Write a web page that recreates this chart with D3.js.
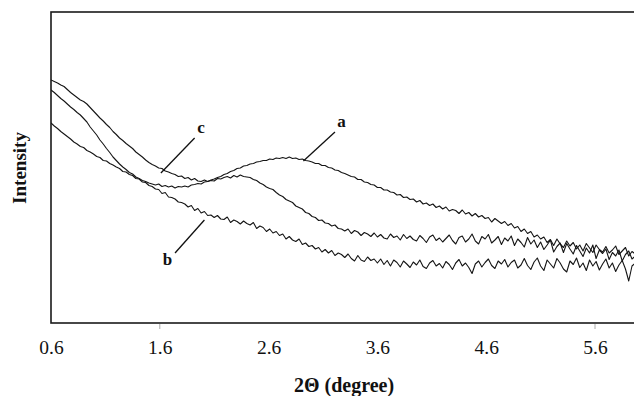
<!DOCTYPE html>
<html>
<head>
<meta charset="utf-8">
<script src="https://cdn.jsdelivr.net/npm/d3@7"></script>
<style>
  html, body { margin: 0; padding: 0; background: #fff; }
  svg { display: block; }
  text { font-family: "Liberation Serif", "Times New Roman", serif; fill: #111; }
</style>
</head>
<body>
<svg id="chart" width="634" height="396"></svg>
<script>
// ---- data ----
const thetaStart = 0.6;      // 2Θ of first sample (degree)
const thetaStep = 0.03;      // sampling step (degree)
const xTickLabels = [0.6, 1.6, 2.6, 3.6, 4.6, 5.6];
const xTickMarks = [1.6, 5.6];

const intensityC = [
  243, 241.5, 240, 238, 236.5, 233.5, 230.5, 228, 225.5, 223,
  221.5, 219, 215.5, 212, 208.5, 205, 202, 198.5, 195.5, 191.5,
  188.5, 185, 182.5, 179.5, 177, 174.5, 171, 168.5, 166, 163,
  160.5, 158.5, 157, 155, 154.5, 152, 151, 149.5, 148.5, 146.5,
  147, 144.5, 145.5, 143, 144.5, 142, 141.5, 143, 141.5, 142.5,
  142, 144.5, 144, 145.5, 146.5, 145, 147.5, 146, 148, 146.5,
  146, 145.5, 143.5, 142.5, 140, 138.5, 136, 134.5, 133.5, 130.5,
  128, 126.5, 123.5, 122, 120.5, 117, 115.5, 114, 110.5, 109.5,
  106.5, 105.5, 102.5, 103, 100, 99.5, 97, 98, 94.5, 94,
  92, 94, 89.5, 92.5, 91, 87.5, 90.5, 89, 86.5, 90,
  86, 88.5, 85, 84, 89, 85.5, 87, 83, 88.5, 84.5,
  87, 83.5, 82, 87.5, 84.5, 80.5, 86, 88, 82.5, 85,
  81, 84.5, 88, 82.5, 79, 85.5, 87, 81, 84, 89,
  82, 79, 86.5, 84, 88.5, 80, 83, 86.5, 78.5, 85,
  82, 87, 77.5, 84, 80.5, 76, 85.5, 79, 83, 75.5,
  81, 73.5, 78, 83, 71, 76.5, 80, 70.5, 79.5, 74,
  69, 77.5, 72, 66.5, 75, 70, 78, 64.5, 73, 69.5,
  74, 63.5, 70.5, 67, 73, 62, 68.5, 72, 64, 67
];

const intensityA = [
  233, 230.5, 227.5, 224.5, 222, 219, 216, 213.5, 210.5, 208,
  204.5, 201, 196, 192, 188, 183, 179, 174.5, 170.5, 166,
  162.5, 159, 156, 153.5, 150.5, 149, 146, 144.5, 142.5, 141.5,
  140, 139, 138, 139, 136.5, 137.5, 136, 137, 135, 136.5,
  136, 137, 136, 138, 138.5, 139.5, 139, 141, 141.5, 143,
  144, 145.5, 146.5, 148.5, 149.5, 151.5, 152.5, 154.5, 155, 157,
  157.5, 159, 159.5, 161, 161.5, 162.5, 162.5, 164, 163.5, 165,
  164.5, 165.5, 164.5, 166, 164.5, 165, 163.5, 164, 162.5, 162,
  161, 159.5, 159.5, 157.5, 157.5, 155.5, 155, 153, 152.5, 150.5,
  149.5, 148, 146.5, 146, 143.5, 143.5, 141, 140.5, 138.5, 138,
  135.5, 135.5, 133, 133, 131, 130.5, 128, 128.5, 125.5, 126,
  123.5, 124, 121, 122.5, 119, 120, 117.5, 119, 115.5, 117,
  114, 116, 112, 113.5, 112.5, 109.5, 113, 109, 110.5, 107,
  109.5, 106, 107.5, 104.5, 105.5, 101, 104.5, 102, 99.5, 101.5,
  97.5, 99.5, 95, 96.5, 91.5, 94, 89.5, 91.5, 86, 88,
  84, 86, 80.5, 83.5, 77.5, 84, 79, 75.5, 82, 77,
  80.5, 74, 78, 72, 79.5, 75, 70.5, 78, 73.5, 71,
  76.5, 70, 73, 77, 68.5, 72, 75.5, 67, 71.5, 69
];

const intensityB = [
  200, 197, 194.5, 191.5, 189, 186.5, 184, 181, 179, 176.5,
  175.5, 172.5, 171, 169, 166.5, 165.5, 162.5, 162, 159.5, 158,
  156, 154.5, 151.5, 151, 148.5, 147.5, 144.5, 144, 141, 140.5,
  137.5, 136.5, 134, 133.5, 129.5, 130.5, 126, 125.5, 124, 121,
  120.5, 119, 116, 117.5, 112.5, 114.5, 110, 111.5, 107.5, 108,
  105.5, 107.5, 104, 103.5, 106, 100.5, 103, 101.5, 99, 102,
  99.5, 98, 100.5, 94.5, 97, 95.5, 91.5, 94, 90, 91.5,
  87.5, 89, 84, 86.5, 83, 81.5, 84, 78.5, 80, 76.5,
  77.5, 74, 75.5, 71, 73.5, 70, 72.5, 67.5, 70, 68.5,
  65.5, 69, 64.5, 62, 67.5, 63, 61.5, 66, 62.5, 64,
  60, 64, 58.5, 62.5, 57, 63, 60.5, 56, 62, 59,
  55.5, 61, 58, 63, 56.5, 54.5, 60, 62.5, 57, 59.5,
  55, 61.5, 58.5, 53.5, 60, 63.5, 57, 60, 55.5, 49.5,
  59, 62, 56, 60.5, 64, 57.5, 54.5, 62, 59, 63.5,
  56, 60.5, 63, 55, 58, 64.5, 57.5, 53.5, 61, 65,
  57, 52.5, 63, 59, 55, 64.5, 60, 54, 51, 62,
  58.5, 65, 55.5, 60, 52.5, 63, 57, 61.5, 53, 59,
  64, 55, 60, 51.5, 58, 62.5, 54, 42, 57, 60
];

const seriesNames = ["a", "b", "c"];
const seriesValues = [intensityA, intensityB, intensityC];

// annotation labels (data units: degree, intensity)
const labelNames = ["c", "a", "b"];
const labelTheta = [1.98, 3.27, 1.67];
const labelIntensity = [190, 196, 58];
const leaderFromTheta = [1.92, 3.21, 1.74];
const leaderFromIntensity = [185, 191, 70];
const leaderToTheta = [1.61, 2.92, 2.01];
const leaderToIntensity = [150, 162, 103];

// ---- layout ----
const svg = d3.select("#chart");
const plotLeft = 51, plotTop = 12, plotBottom = 323;
const x = d3.scaleLinear().domain([0.6, 5.6]).range([plotLeft, 595]);
const y = d3.scaleLinear().domain([0, 311]).range([plotBottom, plotTop]);

// frame
svg.append("rect")
  .attr("x", plotLeft).attr("y", plotTop)
  .attr("width", 700).attr("height", plotBottom - plotTop)
  .attr("fill", "none").attr("stroke", "#1a1a1a").attr("stroke-width", 1.6);

// faint tick marks
svg.selectAll(".tk").data(xTickMarks).enter().append("line")
  .attr("x1", d => x(d)).attr("x2", d => x(d))
  .attr("y1", plotBottom + 1).attr("y2", plotBottom + 6)
  .attr("stroke", "#aaa").attr("stroke-width", 1);

// x axis labels via axis generator
const xAxis = d3.axisBottom(x).tickValues(xTickLabels).tickSize(0).tickPadding(17)
  .tickFormat(d3.format(".1f"));
const gx = svg.append("g").attr("transform", `translate(0,${plotBottom})`).call(xAxis);
gx.select(".domain").remove();
gx.selectAll("text").attr("font-size", 19.5).attr("font-family", "Liberation Serif").attr("fill", "#111");

// axis titles
svg.append("text")
  .attr("x", 344).attr("y", 392)
  .attr("text-anchor", "middle").attr("font-size", 20).attr("font-weight", "bold")
  .text("2Θ (degree)");
svg.append("text")
  .attr("transform", "translate(26,168) rotate(-90)")
  .attr("text-anchor", "middle").attr("font-size", 19).attr("font-weight", "bold")
  .text("Intensity");

// curves
const line = d3.line()
  .x((d, i) => x(thetaStart + i * thetaStep))
  .y(d => y(d));
svg.append("clipPath").attr("id", "clip").append("rect")
  .attr("x", plotLeft).attr("y", plotTop).attr("width", 700).attr("height", plotBottom - plotTop);
svg.append("g").attr("clip-path", "url(#clip)")
  .selectAll("path").data(seriesValues).enter().append("path")
  .attr("d", d => line(d))
  .attr("fill", "none").attr("stroke", "#151515").attr("stroke-width", 1.1)
  .attr("stroke-linejoin", "round");

// annotations
labelNames.forEach((n, i) => {
  svg.append("line")
    .attr("x1", x(leaderFromTheta[i])).attr("y1", y(leaderFromIntensity[i]))
    .attr("x2", x(leaderToTheta[i])).attr("y2", y(leaderToIntensity[i]))
    .attr("stroke", "#111").attr("stroke-width", 1.3);
  svg.append("text")
    .attr("x", x(labelTheta[i])).attr("y", y(labelIntensity[i]))
    .attr("text-anchor", "middle").attr("font-size", 17).attr("font-weight", "bold")
    .text(n);
});
</script>
</body>
</html>
